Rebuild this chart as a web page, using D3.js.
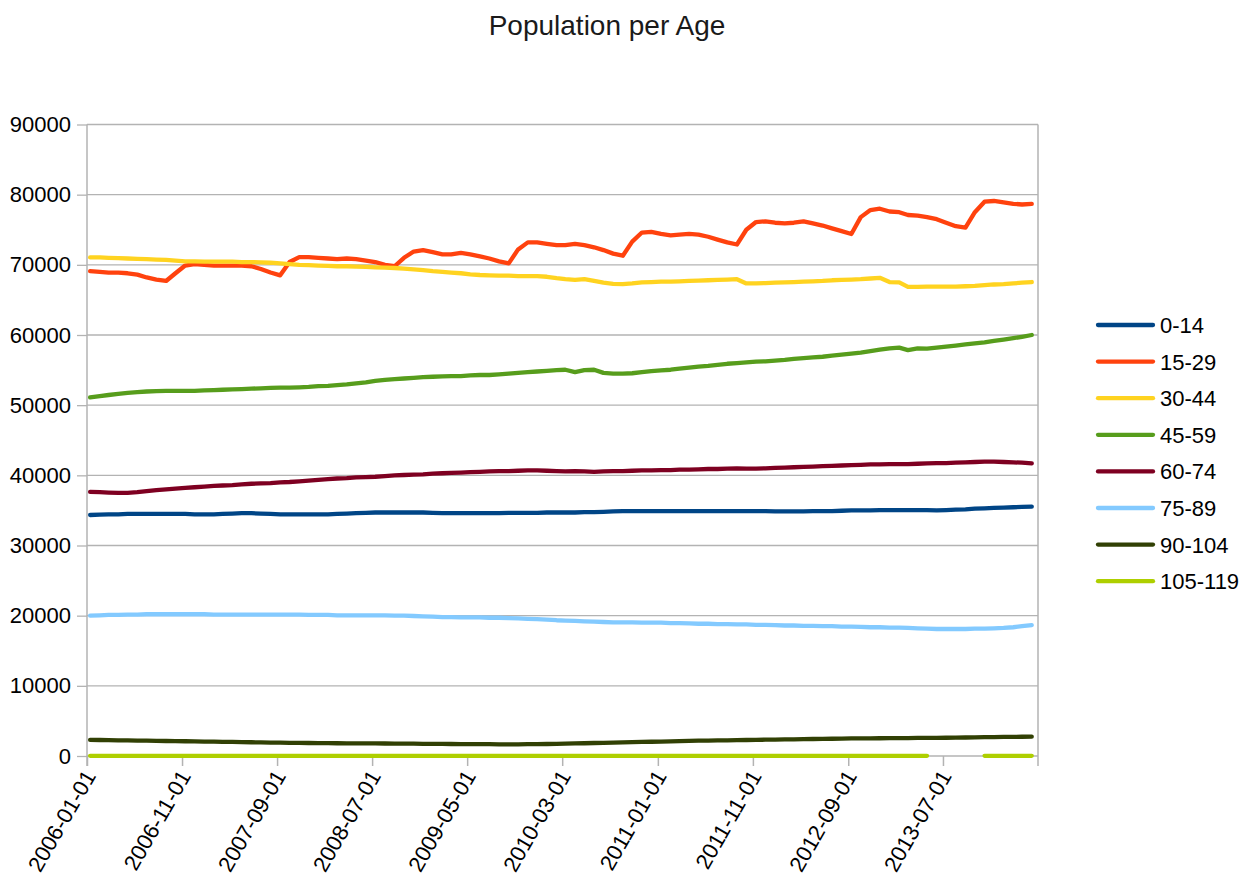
<!DOCTYPE html>
<html>
<head>
<meta charset="utf-8">
<script src="https://cdn.jsdelivr.net/npm/d3@7"></script>
<style>
  html, body { margin: 0; padding: 0; background: #fff; }
  svg { display: block; font-family: "Liberation Sans", Arial, sans-serif; }
</style>
</head>
<body>
<svg id="chart" width="1253" height="893"></svg>
<script>
// Monthly population counts (in thousands) per age band, Jan 2006 – Apr 2014.
const ageBands = ["0-14", "15-29", "30-44", "45-59", "60-74", "75-89", "90-104", "105-119"];
const bandColors = ["#004586", "#ff420e", "#ffd320", "#579d1c", "#7e0021", "#83caff", "#314004", "#aecf00"];

const pop0_14 = [
  34.35, 34.4, 34.45, 34.45, 34.5, 34.5, 34.5, 34.5, 34.5, 34.5,
  34.5, 34.45, 34.45, 34.45, 34.5, 34.55, 34.6, 34.6, 34.55, 34.5,
  34.45, 34.45, 34.45, 34.45, 34.45, 34.45, 34.5, 34.55, 34.6, 34.65,
  34.7, 34.7, 34.7, 34.7, 34.7, 34.7, 34.65, 34.6, 34.6, 34.6,
  34.6, 34.6, 34.6, 34.6, 34.65, 34.65, 34.65, 34.65, 34.7, 34.7,
  34.7, 34.7, 34.75, 34.75, 34.8, 34.85, 34.9, 34.9, 34.9, 34.9,
  34.9, 34.9, 34.9, 34.9, 34.9, 34.9, 34.9, 34.9, 34.9, 34.9,
  34.9, 34.9, 34.85, 34.85, 34.85, 34.85, 34.9, 34.9, 34.9, 34.95,
  35.0, 35.0, 35.0, 35.05, 35.05, 35.05, 35.05, 35.05, 35.05, 35.0,
  35.05, 35.1, 35.15, 35.25, 35.3, 35.35, 35.4, 35.45, 35.5, 35.55
];
const pop15_29 = [
  69.1, 69.0, 68.9, 68.9, 68.8, 68.6, 68.2, 67.9, 67.7, 68.8,
  69.9, 70.1, 70.0, 69.9, 69.9, 69.9, 69.9, 69.8, 69.4, 68.9,
  68.5, 70.4, 71.1, 71.1, 71.0, 70.9, 70.8, 70.9, 70.8, 70.6,
  70.4, 70.0, 69.8, 71.0, 71.9, 72.1, 71.8, 71.5, 71.5, 71.7,
  71.5, 71.2, 70.9, 70.5, 70.2, 72.2, 73.2, 73.2, 73.0, 72.8,
  72.8, 73.0, 72.8, 72.5, 72.1, 71.6, 71.3, 73.3, 74.6, 74.7,
  74.4, 74.2, 74.3, 74.4, 74.3, 74.0, 73.6, 73.2, 72.9, 75.0,
  76.1, 76.2, 76.0, 75.9, 76.0, 76.2, 75.9, 75.6, 75.2, 74.8,
  74.4, 76.8, 77.8, 78.0, 77.6, 77.5, 77.1, 77.0, 76.8, 76.5,
  76.0, 75.5, 75.3, 77.5, 79.0, 79.1, 78.9, 78.7, 78.6, 78.7
];
const pop30_44 = [
  71.05, 71.05, 71.0, 70.95, 70.9, 70.85, 70.8, 70.75, 70.7, 70.6,
  70.5, 70.5, 70.45, 70.45, 70.45, 70.45, 70.4, 70.4, 70.35, 70.3,
  70.2, 70.1, 70.0, 69.95, 69.9, 69.85, 69.8, 69.8, 69.75, 69.7,
  69.65, 69.6, 69.55, 69.45, 69.35, 69.25, 69.1, 69.0, 68.9, 68.8,
  68.65, 68.55, 68.5, 68.45, 68.45, 68.4, 68.4, 68.4, 68.3, 68.1,
  67.95, 67.85, 67.95, 67.7, 67.45, 67.3, 67.25, 67.35, 67.5, 67.55,
  67.6, 67.6, 67.65, 67.7, 67.75, 67.8, 67.85, 67.9, 67.95, 67.35,
  67.35, 67.4, 67.45, 67.5, 67.55, 67.6, 67.65, 67.7, 67.8, 67.85,
  67.9, 67.95, 68.05, 68.15, 67.55, 67.5, 66.85, 66.85, 66.9, 66.9,
  66.9, 66.9, 66.95, 67.0, 67.1, 67.2, 67.25, 67.35, 67.45, 67.55
];
const pop45_59 = [
  51.1, 51.3, 51.45, 51.6, 51.75, 51.85, 51.95, 52.0, 52.05, 52.05,
  52.05, 52.05, 52.1, 52.15, 52.2, 52.25, 52.3, 52.35, 52.4, 52.45,
  52.5, 52.5, 52.55, 52.6, 52.7, 52.75, 52.85, 52.95, 53.1, 53.25,
  53.45, 53.6, 53.7, 53.8, 53.9, 54.0, 54.05, 54.1, 54.15, 54.15,
  54.25, 54.3, 54.3, 54.4, 54.5, 54.6, 54.7, 54.8, 54.9, 55.0,
  55.05, 54.7, 55.0, 55.05, 54.6, 54.5, 54.5, 54.55, 54.7, 54.85,
  54.95, 55.05, 55.2, 55.35, 55.5, 55.6, 55.75, 55.9, 56.0, 56.1,
  56.2, 56.25, 56.35, 56.45, 56.6, 56.7, 56.8, 56.9, 57.05, 57.2,
  57.35, 57.5, 57.7, 57.9, 58.1, 58.2, 57.85, 58.1, 58.05, 58.2,
  58.35, 58.5, 58.65, 58.8, 58.95, 59.15, 59.35, 59.55, 59.75, 60.0
];
const pop60_74 = [
  37.65, 37.6, 37.55, 37.5, 37.5, 37.6, 37.75, 37.9, 38.0, 38.1,
  38.2, 38.3, 38.4, 38.5, 38.55, 38.6, 38.7, 38.8, 38.85, 38.9,
  39.0, 39.05, 39.15, 39.25, 39.35, 39.45, 39.55, 39.6, 39.7, 39.75,
  39.8, 39.9, 40.0, 40.05, 40.1, 40.15, 40.25, 40.3, 40.35, 40.4,
  40.45, 40.5, 40.55, 40.6, 40.6, 40.65, 40.7, 40.7, 40.65, 40.6,
  40.55, 40.6, 40.55, 40.5, 40.55, 40.6, 40.6, 40.65, 40.7, 40.7,
  40.75, 40.75, 40.8, 40.8, 40.85, 40.9, 40.9, 40.95, 41.0, 40.95,
  40.95, 41.0, 41.05, 41.1, 41.15, 41.2, 41.25, 41.3, 41.35, 41.4,
  41.45, 41.5, 41.55, 41.55, 41.6, 41.6, 41.6, 41.65, 41.7, 41.75,
  41.75, 41.8, 41.85, 41.9, 41.95, 41.95, 41.9, 41.85, 41.8, 41.7
];
const pop75_89 = [
  20.0, 20.05, 20.1, 20.1, 20.15, 20.15, 20.2, 20.2, 20.2, 20.2,
  20.2, 20.2, 20.2, 20.15, 20.15, 20.15, 20.15, 20.15, 20.15, 20.15,
  20.15, 20.15, 20.15, 20.1, 20.1, 20.1, 20.05, 20.05, 20.05, 20.05,
  20.05, 20.05, 20.0, 20.0, 19.95, 19.9, 19.85, 19.8, 19.8, 19.75,
  19.75, 19.75, 19.7, 19.7, 19.65, 19.6, 19.55, 19.5, 19.45, 19.35,
  19.3, 19.25, 19.2, 19.15, 19.1, 19.05, 19.05, 19.05, 19.0, 19.0,
  19.0, 18.95, 18.95, 18.9, 18.85, 18.85, 18.8, 18.8, 18.75, 18.75,
  18.7, 18.7, 18.65, 18.6, 18.6, 18.55, 18.55, 18.5, 18.5, 18.45,
  18.45, 18.4, 18.35, 18.35, 18.3, 18.3, 18.25, 18.2, 18.15, 18.1,
  18.1, 18.1, 18.1, 18.15, 18.15, 18.2, 18.25, 18.35, 18.5, 18.65
];
const pop90_104 = [
  2.3, 2.28, 2.26, 2.24, 2.22, 2.2, 2.18, 2.16, 2.14, 2.12,
  2.1, 2.08, 2.06, 2.04, 2.02, 2.0, 1.98, 1.96, 1.94, 1.92,
  1.9, 1.88, 1.86, 1.85, 1.84, 1.83, 1.82, 1.81, 1.8, 1.8,
  1.79, 1.78, 1.77, 1.76, 1.75, 1.74, 1.73, 1.72, 1.71, 1.7,
  1.69, 1.68, 1.68, 1.67, 1.67, 1.67, 1.68, 1.69, 1.71, 1.73,
  1.76, 1.79, 1.82, 1.85, 1.88, 1.91, 1.94, 1.97, 2.0, 2.03,
  2.06, 2.09, 2.12, 2.15, 2.18, 2.2, 2.22, 2.24, 2.26, 2.28,
  2.3, 2.32, 2.34, 2.36, 2.38, 2.4, 2.42, 2.44, 2.46, 2.48,
  2.5, 2.51, 2.52, 2.53, 2.54, 2.55, 2.56, 2.57, 2.58, 2.59,
  2.6, 2.62, 2.64, 2.66, 2.68, 2.7, 2.72, 2.73, 2.74, 2.75
];
// No records for Jun–Oct 2013 in the oldest band.
const pop105_119 = [
  0.02, 0.02, 0.02, 0.02, 0.02, 0.02, 0.02, 0.02, 0.02, 0.02,
  0.02, 0.02, 0.02, 0.02, 0.02, 0.02, 0.02, 0.02, 0.02, 0.02,
  0.02, 0.02, 0.02, 0.02, 0.02, 0.02, 0.02, 0.02, 0.02, 0.02,
  0.02, 0.02, 0.02, 0.02, 0.02, 0.02, 0.02, 0.02, 0.02, 0.02,
  0.02, 0.02, 0.02, 0.02, 0.02, 0.02, 0.02, 0.02, 0.02, 0.02,
  0.02, 0.02, 0.02, 0.02, 0.02, 0.02, 0.02, 0.02, 0.02, 0.02,
  0.02, 0.02, 0.02, 0.02, 0.02, 0.02, 0.02, 0.02, 0.02, 0.02,
  0.02, 0.02, 0.02, 0.02, 0.02, 0.02, 0.02, 0.02, 0.02, 0.02,
  0.02, 0.02, 0.02, 0.02, 0.02, 0.02, 0.02, 0.02, 0.02, null,
  null, null, null, null, 0.02, 0.02, 0.02, 0.02, 0.02, 0.02
];

const seriesValues = [pop0_14, pop15_29, pop30_44, pop45_59, pop60_74, pop75_89, pop90_104, pop105_119];
const yTickValues = [0, 10000, 20000, 30000, 40000, 50000, 60000, 70000, 80000, 90000];
const xTickLabels = ["2006-01-01", "2006-11-01", "2007-09-01", "2008-07-01", "2009-05-01",
                     "2010-03-01", "2011-01-01", "2011-11-01", "2012-09-01", "2013-07-01"];

const parseDate = d3.timeParse("%Y-%m-%d");
const firstMonth = parseDate("2006-01-01");
const axisEnd = parseDate("2014-05-01");
const months = d3.timeMonth.range(firstMonth, parseDate("2014-05-01")); // 100 monthly readings

const svg = d3.select("#chart");
const plot = { left: 87, right: 1038, top: 124.5, bottom: 756 };
const gridColor = "#b3b3b3";

const x = d3.scaleTime().domain([firstMonth, axisEnd]).range([plot.left, plot.right]);
const y = d3.scaleLinear().domain([0, 90000]).range([plot.bottom, plot.top]);

// Title
svg.append("text")
  .attr("x", 607).attr("y", 35)
  .attr("text-anchor", "middle")
  .attr("font-size", 28)
  .attr("fill", "#1a1a1a")
  .text("Population per Age");

// Horizontal grid lines + y axis
const yAxis = d3.axisLeft(y)
  .tickValues(yTickValues)
  .tickSize(10)
  .tickPadding(6)
  .tickFormat(d3.format("d"));
const gy = svg.append("g").attr("transform", `translate(${plot.left},0)`).call(yAxis);
gy.select(".domain").remove();
gy.selectAll(".tick line").attr("stroke", gridColor).attr("stroke-width", 1.3);
gy.selectAll(".tick text").attr("font-size", 22).attr("fill", "#000").attr("font-family", "Liberation Sans, Arial, sans-serif");

svg.append("g").selectAll("line").data(yTickValues).join("line")
  .attr("x1", plot.left).attr("x2", plot.right)
  .attr("y1", d => y(d)).attr("y2", d => y(d))
  .attr("stroke", gridColor).attr("stroke-width", 1.3);

// Plot-area side borders
svg.append("line").attr("x1", plot.left).attr("x2", plot.left)
  .attr("y1", plot.top).attr("y2", plot.bottom + 10)
  .attr("stroke", gridColor).attr("stroke-width", 1.5);
svg.append("line").attr("x1", plot.right).attr("x2", plot.right)
  .attr("y1", plot.top).attr("y2", plot.bottom + 10)
  .attr("stroke", gridColor).attr("stroke-width", 1.5);

// x axis with rotated date labels every ten months
const xTickDates = xTickLabels.map(parseDate);
const xAxis = d3.axisBottom(x)
  .tickValues(xTickDates)
  .tickSize(10)
  .tickFormat(d3.timeFormat("%Y-%m-%d"));
const gx = svg.append("g").attr("transform", `translate(0,${plot.bottom})`).call(xAxis);
gx.select(".domain").remove();
gx.selectAll(".tick line").attr("stroke", gridColor).attr("stroke-width", 1.5);
gx.selectAll(".tick text")
  .attr("font-size", 22).attr("fill", "#000")
  .attr("font-family", "Liberation Sans, Arial, sans-serif")
  .attr("text-anchor", "end")
  .attr("x", 0).attr("y", 0).attr("dy", null)
  .attr("transform", "translate(9,20) rotate(-60)");

// Series lines; each reading sits ten days into its month
const line = d3.line()
  .defined(d => d.v !== null)
  .x(d => x(d.t))
  .y(d => y(d.v * 1000));

const series = ageBands.map((name, i) => ({
  name,
  color: bandColors[i],
  points: seriesValues[i].map((v, j) => ({ t: d3.timeDay.offset(months[j], 10), v }))
}));

svg.append("g").selectAll("path").data(series).join("path")
  .attr("d", s => line(s.points))
  .attr("fill", "none")
  .attr("stroke", s => s.color)
  .attr("stroke-width", 4.3)
  .attr("stroke-linejoin", "round")
  .attr("stroke-linecap", "round");

// Legend
const legend = svg.append("g").attr("transform", "translate(1098,325)");
const rows = legend.selectAll("g").data(series).join("g")
  .attr("transform", (d, i) => `translate(0,${i * 36.6})`);
rows.append("line")
  .attr("x1", 0).attr("x2", 55).attr("y1", 0).attr("y2", 0)
  .attr("stroke", d => d.color).attr("stroke-width", 4.3).attr("stroke-linecap", "round");
rows.append("text")
  .attr("x", 62).attr("y", 0).attr("dy", "0.36em")
  .attr("font-size", 22).attr("fill", "#000")
  .text(d => d.name);
</script>
</body>
</html>
